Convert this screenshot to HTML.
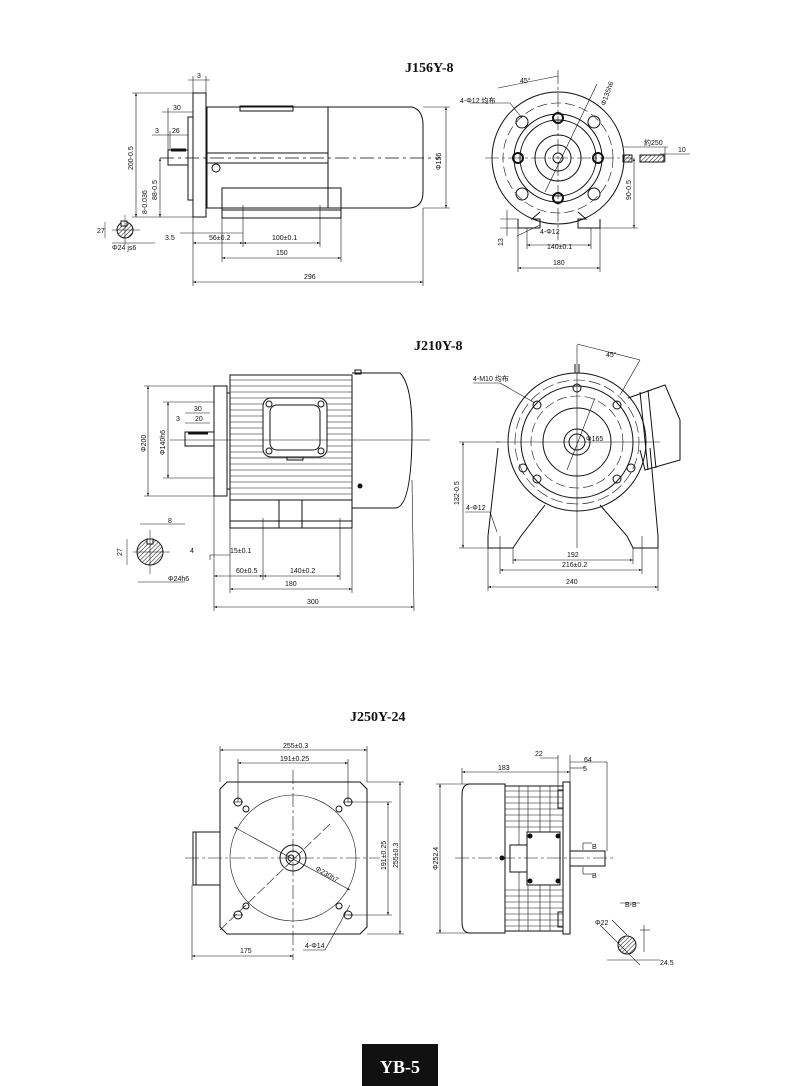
<!DOCTYPE html>
<html><head><meta charset="utf-8"><style>
html,body{margin:0;padding:0;background:#fff;}
svg{display:block}
.t{font-family:"Liberation Sans",sans-serif;font-size:7px;fill:#111}
.h{font-family:"Liberation Serif",serif;font-weight:bold;font-size:14px;fill:#111}
</style></head><body>
<svg width="800" height="1086" viewBox="0 0 800 1086" xmlns="http://www.w3.org/2000/svg">
<defs>
<marker id="a" viewBox="0 0 6 6" refX="6" refY="3" markerWidth="5" markerHeight="5" orient="auto-start-reverse"><path d="M0,1 L6,3 L0,5z" fill="#111"/></marker>
<pattern id="hat" width="3" height="3" patternUnits="userSpaceOnUse" patternTransform="rotate(45)"><line x1="0" y1="0" x2="0" y2="3" stroke="#111" stroke-width="1"/></pattern>
</defs>
<g fill="none" stroke="#111" stroke-width="1">

<!-- ===== J156Y-8 side ===== -->
<rect x="193" y="93" width="13" height="124"/>
<rect x="188" y="117" width="5" height="83"/>
<rect x="168" y="150" width="20" height="15"/>
<line x1="171" y1="150" x2="186" y2="150" stroke-width="3"/>
<rect x="207" y="107" width="121" height="101"/>
<path d="M328,107 H412 Q423,110 423,125 V192 Q423,207 410,208 H328"/>
<rect x="240" y="106" width="53" height="5"/>
<rect x="222" y="188" width="119" height="30"/>
<line x1="222" y1="210" x2="341" y2="210"/>
<line x1="207" y1="153" x2="328" y2="153"/><line x1="207" y1="163" x2="328" y2="163"/>
<circle cx="216" cy="168" r="4"/>
<line x1="160" y1="158" x2="440" y2="158" stroke-dasharray="14,4,3,4" stroke-width="0.7"/>
<!-- dims -->
<g stroke-width="0.6">
<line x1="193" y1="282" x2="423" y2="282" marker-start="url(#a)" marker-end="url(#a)"/>
<line x1="193" y1="217" x2="193" y2="286"/><line x1="423" y1="208" x2="423" y2="286"/>
<line x1="222" y1="258" x2="341" y2="258" marker-start="url(#a)" marker-end="url(#a)"/>
<line x1="222" y1="218" x2="222" y2="262"/><line x1="341" y1="218" x2="341" y2="262"/>
<line x1="193" y1="243" x2="243" y2="243" marker-start="url(#a)" marker-end="url(#a)"/>
<line x1="243" y1="243" x2="320" y2="243" marker-start="url(#a)" marker-end="url(#a)"/>
<line x1="243" y1="205" x2="243" y2="247"/><line x1="320" y1="205" x2="320" y2="247"/>
<line x1="446" y1="107" x2="446" y2="208" marker-start="url(#a)" marker-end="url(#a)"/>
<line x1="423" y1="107" x2="450" y2="107"/><line x1="423" y1="208" x2="450" y2="208"/>
<line x1="136" y1="93" x2="136" y2="217" marker-start="url(#a)" marker-end="url(#a)"/>
<line x1="132" y1="93" x2="193" y2="93"/><line x1="132" y1="217" x2="193" y2="217"/>
<line x1="160" y1="158" x2="160" y2="217" marker-start="url(#a)" marker-end="url(#a)"/>
<line x1="188" y1="80" x2="210" y2="80"/><line x1="193" y1="76" x2="193" y2="93"/><line x1="206" y1="76" x2="206" y2="93"/>
<line x1="162" y1="112" x2="193" y2="112"/><line x1="168" y1="108" x2="168" y2="150"/>
<line x1="152" y1="135" x2="188" y2="135"/><line x1="170" y1="131" x2="170" y2="150"/>
<line x1="180" y1="233" x2="243" y2="233"/>
</g>
<!-- key section -->
<circle cx="125" cy="230" r="8" fill="url(#hat)"/>
<rect x="121" y="221" width="6" height="5" fill="#fff"/>
<line x1="112" y1="230" x2="140" y2="230" stroke-width="0.5"/>
<line x1="125" y1="215" x2="125" y2="245" stroke-width="0.5"/>
<line x1="105" y1="222" x2="105" y2="238" stroke-width="0.5"/>
<line x1="112" y1="243" x2="155" y2="243" stroke-width="0.5"/>

<!-- ===== J156Y-8 front ===== -->
<circle cx="558" cy="158" r="66"/>
<circle cx="558" cy="158" r="55" stroke-dasharray="10,4" stroke-width="0.6"/>
<circle cx="558" cy="158" r="44"/>
<circle cx="558" cy="158" r="38"/>
<circle cx="558" cy="158" r="23"/>
<circle cx="558" cy="158" r="13"/>
<circle cx="558" cy="158" r="5"/>
<circle cx="558" cy="118" r="5" stroke-width="2"/><circle cx="558" cy="198" r="5" stroke-width="2"/>
<circle cx="518" cy="158" r="5" stroke-width="2"/><circle cx="598" cy="158" r="5" stroke-width="2"/>
<circle cx="522" cy="122" r="6"/><circle cx="594" cy="122" r="6"/><circle cx="522" cy="194" r="6"/><circle cx="594" cy="194" r="6"/>
<path d="M518,219 L518,228 L540,228 L540,219 L532,219 L540,212 M600,219 L600,228 L578,228 L578,219 L586,219 L578,212"/>
<line x1="485" y1="158" x2="632" y2="158" stroke-dasharray="14,3,3,3" stroke-width="0.6"/>
<line x1="558" y1="70" x2="558" y2="240" stroke-dasharray="14,3,3,3" stroke-width="0.6"/>
<rect x="623" y="155" width="9" height="7" fill="url(#hat)"/>
<rect x="640" y="155" width="24" height="7" fill="url(#hat)"/>
<g stroke-width="0.6">
<line x1="518" y1="268" x2="600" y2="268" marker-start="url(#a)" marker-end="url(#a)"/>
<line x1="527" y1="245" x2="591" y2="245" marker-start="url(#a)" marker-end="url(#a)"/>
<line x1="518" y1="228" x2="518" y2="272"/><line x1="600" y1="228" x2="600" y2="272"/>
<line x1="527" y1="228" x2="527" y2="249"/><line x1="591" y1="228" x2="591" y2="249"/>
<line x1="634" y1="158" x2="634" y2="228" marker-start="url(#a)" marker-end="url(#a)"/>
<line x1="600" y1="228" x2="638" y2="228"/>
<line x1="624" y1="147" x2="668" y2="147"/><line x1="665" y1="147" x2="665" y2="162"/>
<line x1="660" y1="154" x2="690" y2="154"/>
<line x1="507" y1="210" x2="507" y2="236"/><line x1="500" y1="219" x2="518" y2="219"/><line x1="500" y1="228" x2="518" y2="228"/>
<line x1="498" y1="88" x2="558" y2="76"/>
<line x1="470" y1="103" x2="510" y2="103"/><line x1="510" y1="103" x2="522" y2="118"/>
<line x1="545" y1="192" x2="597" y2="84"/>
<line x1="517" y1="236" x2="540" y2="225"/>
</g>

<!-- ===== J210Y-8 side ===== -->
<rect x="214" y="386" width="13" height="110"/>
<rect x="227" y="393" width="3" height="96"/>
<rect x="185" y="432" width="29" height="14"/>
<line x1="188" y1="433" x2="208" y2="433" stroke-width="3"/>
<rect x="230" y="375" width="122" height="125"/>
<g stroke-width="0.6">
<line x1="230" y1="380" x2="352" y2="380"/><line x1="230" y1="386" x2="352" y2="386"/><line x1="230" y1="392" x2="352" y2="392"/>
<line x1="230" y1="398" x2="352" y2="398"/><line x1="230" y1="404" x2="352" y2="404"/><line x1="230" y1="410" x2="352" y2="410"/>
<line x1="230" y1="416" x2="352" y2="416"/><line x1="230" y1="422" x2="352" y2="422"/><line x1="230" y1="428" x2="352" y2="428"/>
<line x1="230" y1="434" x2="352" y2="434"/><line x1="230" y1="446" x2="352" y2="446"/><line x1="230" y1="452" x2="352" y2="452"/>
<line x1="230" y1="458" x2="352" y2="458"/><line x1="230" y1="464" x2="352" y2="464"/><line x1="230" y1="470" x2="352" y2="470"/>
<line x1="230" y1="476" x2="352" y2="476"/><line x1="230" y1="482" x2="352" y2="482"/><line x1="230" y1="488" x2="352" y2="488"/>
<line x1="230" y1="494" x2="352" y2="494"/>
</g>
<rect x="263" y="398" width="64" height="59" rx="8" fill="#fff"/>
<rect x="270" y="405" width="50" height="45" rx="7"/>
<circle cx="269" cy="404" r="3"/><circle cx="321" cy="404" r="3"/><circle cx="269" cy="451" r="3"/><circle cx="321" cy="451" r="3"/>
<rect x="287" y="457" width="16" height="3"/>
<rect x="230" y="500" width="122" height="28"/>
<rect x="279" y="500" width="23" height="28"/>
<line x1="230" y1="521" x2="352" y2="521"/>
<path d="M352,373 H400 Q412,385 412,430 Q412,508 395,508 H352"/>
<rect x="355" y="370" width="6" height="4"/>
<circle cx="360" cy="486" r="2" fill="#111"/>
<line x1="170" y1="440" x2="430" y2="440" stroke-width="0.6"/>
<g stroke-width="0.6">
<line x1="214" y1="607" x2="414" y2="607" marker-start="url(#a)" marker-end="url(#a)"/>
<line x1="214" y1="496" x2="214" y2="611"/><line x1="412" y1="480" x2="414" y2="611"/>
<line x1="230" y1="589" x2="352" y2="589" marker-start="url(#a)" marker-end="url(#a)"/>
<line x1="230" y1="528" x2="230" y2="593"/><line x1="352" y1="528" x2="352" y2="593"/>
<line x1="214" y1="576" x2="263" y2="576" marker-start="url(#a)" marker-end="url(#a)"/>
<line x1="263" y1="576" x2="340" y2="576" marker-start="url(#a)" marker-end="url(#a)"/>
<line x1="263" y1="518" x2="263" y2="580"/><line x1="340" y1="518" x2="340" y2="580"/>
<line x1="148" y1="386" x2="148" y2="496" marker-start="url(#a)" marker-end="url(#a)"/>
<line x1="144" y1="386" x2="214" y2="386"/><line x1="144" y1="496" x2="214" y2="496"/>
<line x1="168" y1="402" x2="168" y2="478" marker-start="url(#a)" marker-end="url(#a)"/>
<line x1="163" y1="402" x2="214" y2="402"/><line x1="163" y1="478" x2="214" y2="478"/>
<line x1="185" y1="413" x2="210" y2="413"/><line x1="185" y1="423" x2="210" y2="423"/>
<line x1="210" y1="555" x2="230" y2="555"/><line x1="210" y1="555" x2="210" y2="560"/>
</g>
<circle cx="150" cy="552" r="13" fill="url(#hat)"/>
<rect x="147" y="539" width="6" height="5" fill="#fff"/>
<line x1="133" y1="552" x2="170" y2="552" stroke-width="0.5"/><line x1="150" y1="530" x2="150" y2="574" stroke-width="0.5"/>
<line x1="127" y1="539" x2="127" y2="565" stroke-width="0.5"/>
<line x1="138" y1="582" x2="185" y2="582" stroke-width="0.5"/>
<line x1="140" y1="524" x2="185" y2="524" stroke-width="0.5"/>

<!-- ===== J210Y-8 front ===== -->
<circle cx="577" cy="442" r="69"/>
<circle cx="577" cy="442" r="62" stroke-dasharray="12,4" stroke-width="0.6"/>
<circle cx="577" cy="442" r="56"/>
<circle cx="577" cy="442" r="46" stroke-dasharray="10,4" stroke-width="0.6"/>
<circle cx="577" cy="442" r="34"/>
<circle cx="577" cy="442" r="13"/>
<circle cx="577" cy="442" r="8"/>
<circle cx="577" cy="388" r="4"/><circle cx="537" cy="405" r="4"/><circle cx="617" cy="405" r="4"/>
<circle cx="537" cy="479" r="4"/><circle cx="617" cy="479" r="4"/>
<circle cx="523" cy="468" r="4"/><circle cx="631" cy="468" r="4"/>
<path d="M575,373 V364 M579,373 V364"/>
<path d="M498,448 L488,536 V548 H513 L521,536 L545,505 M650,448 L658,536 V548 H633 L627,536 L600,505"/>
<path d="M628,398 L665,385 L680,420 L680,460 L645,470 L640,450"/>
<path d="M640,392 L648,470 M648,390 L656,468"/>
<line x1="496" y1="442" x2="660" y2="442" stroke-width="0.6"/>
<line x1="577" y1="345" x2="577" y2="548" stroke-width="0.6"/>
<g stroke-width="0.6">
<line x1="513" y1="560" x2="633" y2="560" marker-start="url(#a)" marker-end="url(#a)"/>
<line x1="500" y1="570" x2="642" y2="570" marker-start="url(#a)" marker-end="url(#a)"/>
<line x1="488" y1="587" x2="658" y2="587" marker-start="url(#a)" marker-end="url(#a)"/>
<line x1="488" y1="548" x2="488" y2="591"/><line x1="658" y1="548" x2="658" y2="591"/>
<line x1="500" y1="536" x2="500" y2="574"/><line x1="642" y1="536" x2="642" y2="574"/>
<line x1="513" y1="548" x2="513" y2="564"/><line x1="633" y1="548" x2="633" y2="564"/>
<line x1="463" y1="442" x2="463" y2="548" marker-start="url(#a)" marker-end="url(#a)"/>
<line x1="459" y1="442" x2="500" y2="442"/><line x1="459" y1="548" x2="488" y2="548"/>
<line x1="465" y1="512" x2="490" y2="512"/><line x1="490" y1="512" x2="497" y2="532"/>
<line x1="473" y1="383" x2="500" y2="383"/><line x1="500" y1="383" x2="535" y2="403"/>
<line x1="577" y1="344" x2="640" y2="360"/><line x1="640" y1="360" x2="620" y2="395"/>
<line x1="567" y1="470" x2="595" y2="398"/>
</g>

<!-- ===== J250Y-24 ===== -->
<path d="M227,782 H360 L367,789 V927 L360,934 H227 L220,927 V789 Z"/>
<rect x="193" y="832" width="27" height="53"/>
<line x1="196" y1="832" x2="196" y2="885"/>
<circle cx="293" cy="858" r="63" stroke-width="0.6"/>
<circle cx="293" cy="858" r="13"/><circle cx="293" cy="858" r="7"/><circle cx="291" cy="858" r="3"/>
<circle cx="238" cy="802" r="4"/><circle cx="348" cy="802" r="4"/><circle cx="238" cy="915" r="4"/><circle cx="348" cy="915" r="4"/>
<circle cx="246" cy="809" r="3"/><circle cx="339" cy="809" r="3"/><circle cx="246" cy="906" r="3"/><circle cx="339" cy="906" r="3"/>
<g stroke-width="0.6">
<line x1="185" y1="858" x2="380" y2="858" stroke-dasharray="14,3,3,3"/>
<line x1="293" y1="770" x2="293" y2="960" stroke-dasharray="14,3,3,3"/>
<line x1="233" y1="802" x2="243" y2="802"/><line x1="343" y1="802" x2="353" y2="802"/>
<line x1="233" y1="915" x2="243" y2="915"/><line x1="343" y1="915" x2="353" y2="915"/>
<line x1="234" y1="827" x2="350" y2="890" marker-start="url(#a)" marker-end="url(#a)"/>
<line x1="220" y1="930" x2="330" y2="824" stroke-dasharray="10,3"/>
<line x1="220" y1="750" x2="367" y2="750" marker-start="url(#a)" marker-end="url(#a)"/>
<line x1="220" y1="746" x2="220" y2="782"/><line x1="367" y1="746" x2="367" y2="782"/>
<line x1="238" y1="763" x2="348" y2="763" marker-start="url(#a)" marker-end="url(#a)"/>
<line x1="238" y1="759" x2="238" y2="802"/><line x1="348" y1="759" x2="348" y2="802"/>
<line x1="388" y1="802" x2="388" y2="915" marker-start="url(#a)" marker-end="url(#a)"/>
<line x1="348" y1="802" x2="392" y2="802"/><line x1="348" y1="915" x2="392" y2="915"/>
<line x1="400" y1="782" x2="400" y2="934" marker-start="url(#a)" marker-end="url(#a)"/>
<line x1="367" y1="782" x2="404" y2="782"/><line x1="367" y1="934" x2="404" y2="934"/>
<line x1="192" y1="956" x2="293" y2="956" marker-start="url(#a)" marker-end="url(#a)"/>
<line x1="192" y1="885" x2="192" y2="960"/>
<line x1="350" y1="905" x2="325" y2="950"/><line x1="303" y1="950" x2="325" y2="950"/>
</g>
<!-- right view -->
<path d="M505,784 H470 Q462,784 462,795 V922 Q462,933 470,933 H505 Z"/>
<rect x="505" y="786" width="58" height="145"/>
<g stroke-width="0.6">
<line x1="505" y1="791" x2="563" y2="791"/><line x1="505" y1="797" x2="563" y2="797"/><line x1="505" y1="803" x2="563" y2="803"/>
<line x1="505" y1="809" x2="563" y2="809"/><line x1="505" y1="815" x2="563" y2="815"/><line x1="505" y1="821" x2="563" y2="821"/>
<line x1="505" y1="827" x2="563" y2="827"/><line x1="505" y1="890" x2="563" y2="890"/><line x1="505" y1="896" x2="563" y2="896"/>
<line x1="505" y1="902" x2="563" y2="902"/><line x1="505" y1="908" x2="563" y2="908"/><line x1="505" y1="914" x2="563" y2="914"/>
<line x1="505" y1="920" x2="563" y2="920"/><line x1="505" y1="926" x2="563" y2="926"/>
<line x1="519" y1="786" x2="519" y2="931"/><line x1="528" y1="786" x2="528" y2="931"/>
<line x1="540" y1="786" x2="540" y2="931"/><line x1="550" y1="786" x2="550" y2="931"/>
</g>
<rect x="527" y="832" width="33" height="53" fill="#fff"/>
<rect x="510" y="845" width="17" height="27" fill="#fff"/>
<circle cx="530" cy="836" r="2" fill="#111"/><circle cx="558" cy="836" r="2" fill="#111"/>
<circle cx="530" cy="881" r="2" fill="#111"/><circle cx="558" cy="881" r="2" fill="#111"/>
<circle cx="502" cy="858" r="2" fill="#111"/>
<rect x="558" y="790" width="5" height="18"/><rect x="558" y="912" width="5" height="15"/>
<rect x="563" y="782" width="7" height="152"/>
<rect x="570" y="851" width="35" height="15"/>
<line x1="455" y1="858" x2="615" y2="858" stroke-width="0.6" stroke-dasharray="14,3,3,3"/>
<g stroke-width="0.6">
<line x1="440" y1="784" x2="440" y2="933" marker-start="url(#a)" marker-end="url(#a)"/>
<line x1="436" y1="784" x2="470" y2="784"/><line x1="436" y1="933" x2="470" y2="933"/>
<line x1="462" y1="772" x2="570" y2="772" marker-start="url(#a)" marker-end="url(#a)"/>
<line x1="462" y1="768" x2="462" y2="784"/>
<line x1="540" y1="758" x2="558" y2="758"/><line x1="558" y1="755" x2="558" y2="790"/>
<line x1="570" y1="762" x2="607" y2="762"/><line x1="607" y1="762" x2="607" y2="851"/>
<line x1="570" y1="768" x2="585" y2="768"/><line x1="570" y1="755" x2="570" y2="782"/>
<line x1="583" y1="843" x2="583" y2="850"/><line x1="583" y1="843" x2="592" y2="843"/>
<line x1="583" y1="867" x2="583" y2="874"/><line x1="583" y1="874" x2="592" y2="874"/>
</g>
<circle cx="627" cy="945" r="9" fill="url(#hat)"/>
<g stroke-width="0.6">
<line x1="600" y1="925" x2="640" y2="965"/>
<line x1="612" y1="920" x2="627" y2="935"/>
<line x1="607" y1="960" x2="660" y2="960"/><line x1="640" y1="930" x2="650" y2="930"/>
<line x1="644" y1="925" x2="644" y2="952"/>
<line x1="620" y1="903" x2="640" y2="903"/>
</g>
</g>

<!-- texts -->
<text class="h" x="405" y="72">J156Y-8</text>
<text class="h" x="414" y="350">J210Y-8</text>
<text class="h" x="350" y="721">J250Y-24</text>
<g class="t">
<text x="197" y="78">3</text><text x="173" y="110">30</text><text x="172" y="133">26</text><text x="155" y="133">3</text>
<text x="304" y="286" transform="translate(0,-7)">296</text>
<text x="276" y="255">150</text><text x="209" y="240">56±0.2</text><text x="272" y="240">100±0.1</text>
<text x="165" y="240">3.5</text><text x="112" y="250">Φ24 js6</text><text x="97" y="233">27</text>
<text x="441" y="170" transform="rotate(-90 441 170)">Φ156</text>
<text x="133" y="170" transform="rotate(-90 133 170)">200-0.5</text>
<text x="157" y="200" transform="rotate(-90 157 200)">88-0.5</text>
<text x="147" y="214" transform="rotate(-90 147 214)">8-0.036</text>
<text x="520" y="83">45°</text><text x="460" y="103">4-Φ12 均布</text>
<text x="540" y="234">4-Φ12</text><text x="547" y="249">140±0.1</text><text x="553" y="265">180</text>
<text x="644" y="145">約250</text><text x="678" y="152">10</text>
<text x="631" y="200" transform="rotate(-90 631 200)">90-0.5</text>
<text x="503" y="246" transform="rotate(-90 503 246)">13</text>
<text x="605" y="106" transform="rotate(-70 605 106)">Φ135h6</text>

<text x="194" y="411">30</text><text x="195" y="421">20</text><text x="176" y="421">3</text>
<text x="146" y="452" transform="rotate(-90 146 452)">Φ200</text>
<text x="165" y="455" transform="rotate(-90 165 455)">Φ140h6</text>
<text x="230" y="553">15±0.1</text><text x="190" y="553">4</text>
<text x="236" y="573">60±0.5</text><text x="290" y="573">140±0.2</text><text x="285" y="586">180</text>
<text x="307" y="604">300</text><text x="168" y="523">8</text><text x="122" y="556" transform="rotate(-90 122 556)">27</text>
<text x="168" y="581">Φ24h6</text>
<text x="473" y="381">4-M10 均布</text><text x="606" y="357">45°</text><text x="586" y="441">Φ165</text>
<text x="466" y="510">4-Φ12</text><text x="567" y="557">192</text><text x="562" y="567">216±0.2</text><text x="566" y="584">240</text>
<text x="459" y="505" transform="rotate(-90 459 505)">132-0.5</text>

<text x="283" y="748">255±0.3</text><text x="280" y="761">191±0.25</text>
<text x="386" y="870" transform="rotate(-90 386 870)">191±0.25</text>
<text x="398" y="868" transform="rotate(-90 398 868)">255±0.3</text>
<text x="240" y="953">175</text><text x="305" y="948">4-Φ14</text>
<text x="315" y="870" transform="rotate(30 315 870)">Φ230h7</text>
<text x="438" y="870" transform="rotate(-90 438 870)">Φ252.4</text>
<text x="498" y="770">183</text><text x="535" y="756">22</text><text x="584" y="762">64</text><text x="583" y="771">5</text>
<text x="592" y="849">B</text><text x="592" y="878">B</text><text x="625" y="907">B-B</text>
<text x="595" y="925">Φ22</text><text x="660" y="965">24.5</text>
</g>

<rect x="362" y="1044" width="76" height="42" fill="#111"/>
<text x="400" y="1073" text-anchor="middle" style="font-family:'Liberation Serif',serif;font-weight:bold;font-size:18px;fill:#fff">YB-5</text>
</svg>
</body></html>
